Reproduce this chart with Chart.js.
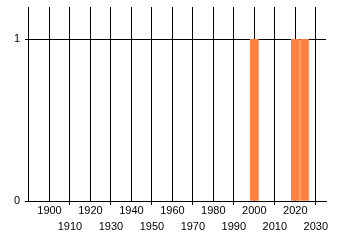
<!doctype html>
<html lang="en">

<head>
    <meta charset="utf-8">
    <title>Chart</title>
    <script src="https://cdn.jsdelivr.net/npm/chart.js"></script>
    <style>
        html, body { margin: 0; padding: 0; background: #ffffff; }
        #wrap { width: 340px; height: 245px; }
    </style>
</head>

<body>
    <div id="wrap"><canvas id="chart"></canvas></div>
    <script>
        // values
        const years = [2000, 2020, 2024.5];
        const counts = [1, 1, 1];
        const xTicks = [1900, 1910, 1920, 1930, 1940, 1950, 1960, 1970, 1980, 1990, 2000, 2010, 2020, 2030];
        const yTicks = [0, 1];

        const points = [];
        for (let i = 0; i < years.length; i++) {
            points.push({ x: years[i], y: counts[i] });
        }

        const ctx = document.getElementById('chart');
        new Chart(ctx, {
            type: 'bar',
            data: {
                datasets: [{
                    data: points,
                    backgroundColor: '#ff8040',
                    borderWidth: 0,
                    barThickness: 8
                }]
            },
            options: {
                responsive: true,
                maintainAspectRatio: false,
                animation: false,
                layout: { padding: { top: 7, right: 14, left: 0, bottom: 0 } },
                plugins: {
                    legend: { display: false },
                    tooltip: { enabled: false }
                },
                scales: {
                    x: {
                        type: 'linear',
                        offset: false,
                        min: 1889.5,
                        max: 2035,
                        afterBuildTicks: (axis) => {
                            axis.ticks = xTicks.map(v => ({ value: v }));
                        },
                        afterFit: (axis) => {
                            axis.height = 44;
                            axis.paddingLeft = 0;
                            axis.paddingRight = 0;
                        },
                        grid: {
                            offset: false,
                            color: '#000000',
                            lineWidth: 1,
                            tickLength: 4,
                            tickColor: (c) => (c.tick && c.tick.value % 20 != 0) ? '#000000' : 'rgba(0,0,0,0)'
                        },
                        border: { display: true, color: '#000000' },
                        ticks: {
                            autoSkip: false,
                            maxRotation: 0,
                            padding: -2,
                            color: '#000000',
                            font: { family: 'Liberation Sans', size: 11, lineHeight: '16px' },
                            callback: (v) => (v % 20 == 0) ? String(v) : ['', String(v)]
                        }
                    },
                    y: {
                        min: 0,
                        max: 1.2,
                        afterBuildTicks: (axis) => {
                            axis.ticks = yTicks.map(v => ({ value: v }));
                        },
                        afterFit: (axis) => {
                            axis.width = 28;
                            axis.paddingTop = 0;
                            axis.paddingBottom = 0;
                        },
                        grid: {
                            color: '#000000',
                            lineWidth: 1,
                            tickLength: 3
                        },
                        border: { display: true, color: '#000000' },
                        ticks: {
                            padding: 5,
                            color: '#000000',
                            font: { family: 'Liberation Sans', size: 11 }
                        }
                    }
                }
            }
        });
    </script>
</body>

</html>
